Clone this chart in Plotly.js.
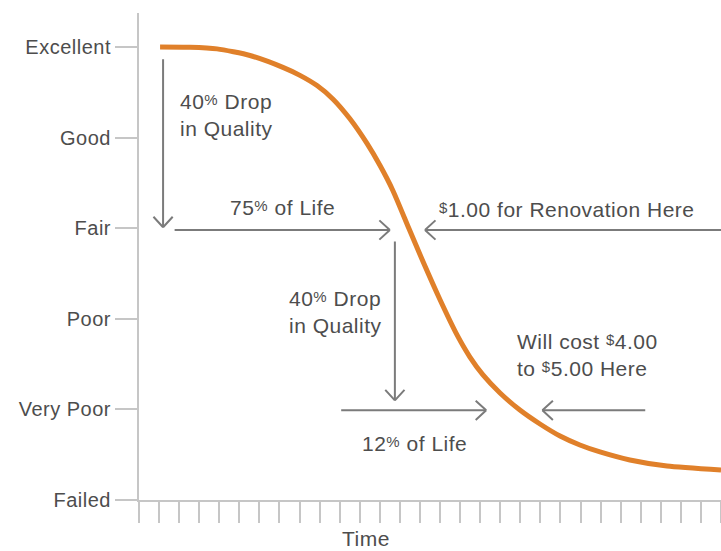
<!DOCTYPE html>
<html>
<head>
<meta charset="utf-8">
<script src="https://cdn.plot.ly/plotly-3.0.1.min.js"></script>
<style>
  html, body { margin: 0; padding: 0; background: #fff; }
  #chart { width: 721px; height: 551px; }
  svg text { letter-spacing: 0.5px; }
</style>
</head>
<body>
<div id="chart"></div>
<script>
// Condition ratings shown on the vertical axis (Failed = 0 ... Excellent = 5)
const conditionLevels = [0, 1, 2, 3, 4, 5];
const conditionLabels = ["Failed", "Very Poor", "Poor", "Fair", "Good", "Excellent"];

// Deterioration curve: time units vs. condition score
const timeValues = [1.05, 2.54, 3.89, 5.53, 7.17, 8.02, 8.87, 9.67, 10.51, 11.36, 12.01, 12.66, 13.45,
                    14.15, 15.0, 15.84, 16.49, 17.14, 17.99, 18.98, 19.98, 20.98, 21.97, 22.97,
                    24.46, 26.31, 29.0];
const conditionValues = [5.0, 4.997, 4.979, 4.906, 4.775, 4.687, 4.574, 4.424, 4.207, 3.935, 3.691,
                         3.411, 2.996, 2.632, 2.210, 1.825, 1.578, 1.380, 1.181, 0.993, 0.839, 0.706,
                         0.607, 0.530, 0.442, 0.375, 0.331];

const FONT = "'Liberation Sans', Arial, sans-serif";
const TEXT_COLOR = "#4d4d4d";
const ARROW_COLOR = "#7b7b7b";
const AXIS_COLOR = "#c6c6c6";
const ORANGE = "#e0802a";

const pct = '<span style="font-size:15px;baseline-shift:4px">%</span>';
const dol = '<span style="font-size:15px;baseline-shift:4px">$</span>';

const trace = {
  x: timeValues,
  y: conditionValues,
  type: "scatter",
  mode: "lines",
  line: { color: ORANGE, width: 5, shape: "spline", smoothing: 0.6 },
  hoverinfo: "skip",
  showlegend: false,
  cliponaxis: false
};

// plain line segment between two data points
function segment(x, y, ax, ay) {
  return {
    x: x, y: y, ax: ax, ay: ay,
    xref: "x", yref: "y", axref: "x", ayref: "y",
    text: "", showarrow: true, arrowhead: 0, arrowwidth: 2,
    arrowcolor: ARROW_COLOR, standoff: 0, startstandoff: 0
  };
}

// one barb of an open chevron head, offset in pixels from the tip
function barb(x, y, dx, dy) {
  return {
    x: x, y: y, ax: dx, ay: dy,
    xref: "x", yref: "y",
    text: "", showarrow: true, arrowhead: 0, arrowwidth: 2,
    arrowcolor: ARROW_COLOR, standoff: 0, startstandoff: 0
  };
}

// arrow from (ax, ay) to the tip (x, y), with an open V head
function arrow(x, y, ax, ay) {
  const L = 12, W = 11;
  let b1, b2;
  if (ay === y) {
    const s = x > ax ? -1 : 1;          // head points right or left
    b1 = barb(x, y, s * L, -W);
    b2 = barb(x, y, s * L, W);
  } else {
    const s = y < ay ? -1 : 1;          // head points down or up
    b1 = barb(x, y, -W, s * L);
    b2 = barb(x, y, W, s * L);
  }
  return [segment(x, y, ax, ay), b1, b2];
}

function label(text, x, y, xanchor) {
  return {
    x: x, y: y, xref: "x", yref: "y",
    text: text, showarrow: false,
    xanchor: xanchor, yanchor: "middle", align: "left",
    font: { family: FONT, size: 21, color: TEXT_COLOR }
  };
}

const annotations = [].concat(
  // quality drop from Excellent to Fair
  arrow(1.2, 3.01, 1.2, 4.88),
  // 75% of life to Fair
  arrow(12.5, 2.98, 1.7, 2.98),
  // renovation point from the right
  arrow(14.25, 2.98, 29.1, 2.98),
  // second quality drop from Fair to Very Poor
  arrow(12.75, 1.10, 12.75, 2.87),
  // 12% of life
  arrow(17.3, 0.99, 10.0, 0.99),
  // cost arrow from the right
  arrow(20.1, 0.99, 25.3, 0.99),
  [
    label("40" + pct + " Drop<br>in Quality", 1.94, 4.25, "left"),
    label("75" + pct + " of Life", 7.17, 3.23, "center"),
    label(dol + "1.00 for Renovation Here", 21.3, 3.21, "center"),
    label("40" + pct + " Drop<br>in Quality", 7.37, 2.07, "left"),
    label("12" + pct + " of Life", 13.75, 0.62, "center"),
    label("Will cost " + dol + "4.00<br>to " + dol + "5.00 Here", 18.73, 1.60, "left"),
    {
      x: 0.39, y: -0.08, xref: "paper", yref: "paper",
      text: "Time", showarrow: false, xanchor: "center", yanchor: "middle",
      font: { family: FONT, size: 21, color: TEXT_COLOR }
    }
  ]
);

const layout = {
  width: 721,
  height: 551,
  margin: { l: 139, r: 0, t: 13, b: 51 },
  paper_bgcolor: "#ffffff",
  plot_bgcolor: "#ffffff",
  showlegend: false,
  xaxis: {
    range: [0, 29],
    tick0: 0, dtick: 1,
    ticks: "outside", ticklen: 21, tickwidth: 2, tickcolor: AXIS_COLOR,
    showticklabels: false,
    showline: true, linecolor: AXIS_COLOR, linewidth: 2,
    showgrid: false, zeroline: false, fixedrange: true
  },
  yaxis: {
    range: [0, 5.375],
    tickvals: conditionLevels,
    ticktext: conditionLabels,
    ticks: "outside", ticklen: 22, tickwidth: 2, tickcolor: AXIS_COLOR,
    ticklabelstandoff: 0,
    tickfont: { family: FONT, size: 20, color: TEXT_COLOR },
    showline: true, linecolor: AXIS_COLOR, linewidth: 2,
    showgrid: false, zeroline: false, fixedrange: true
  },
  annotations: annotations
};

Plotly.newPlot("chart", [trace], layout, { staticPlot: true, displayModeBar: false });
</script>
</body>
</html>
